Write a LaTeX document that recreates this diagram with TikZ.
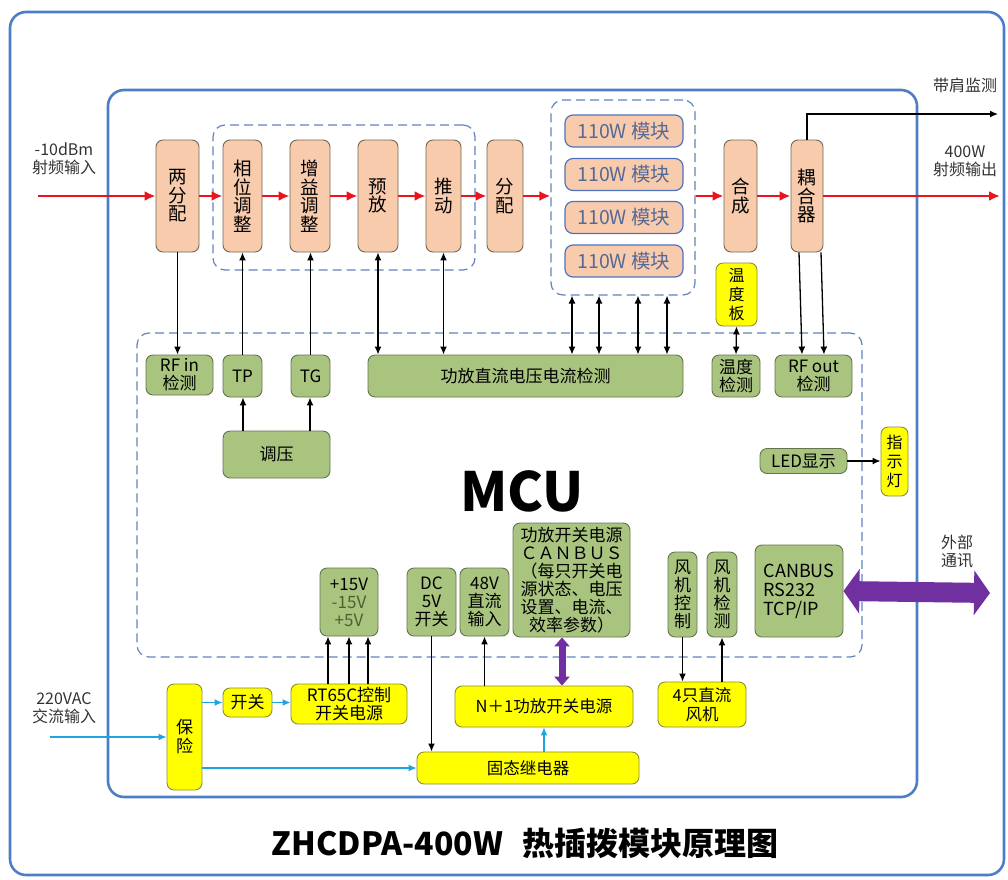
\documentclass[tikz,border=0pt]{standalone}
\usepackage{fontspec}
\setmainfont{Noto Sans CJK SC}
\usetikzlibrary{arrows.meta}

\definecolor{peach}{RGB}{248,203,173}
\definecolor{peachline}{RGB}{110,105,85}
\definecolor{modline}{RGB}{80,115,190}
\definecolor{modtext}{RGB}{85,105,150}
\definecolor{greenfill}{RGB}{169,196,127}
\definecolor{greenline}{RGB}{100,115,80}
\definecolor{yelfill}{RGB}{255,255,0}
\definecolor{yelline}{RGB}{140,140,50}
\definecolor{dashblue}{RGB}{95,130,190}
\definecolor{frameblue}{RGB}{75,125,200}
\definecolor{labelgray}{RGB}{50,50,50}
\definecolor{sigred}{RGB}{235,20,30}
\definecolor{acblue}{RGB}{30,165,225}
\definecolor{buspurple}{RGB}{112,48,160}
\definecolor{voltgreen}{RGB}{80,95,50}

\begin{document}
\begin{tikzpicture}[x=1pt,y=-1pt,
  rfbox/.style={draw=peachline,fill=peach,rounded corners=7pt,line width=0.9pt,inner sep=1pt,align=center,font=\fontsize{18.5}{18.5}\selectfont},
  modbox/.style={draw=modline,fill=peach,rounded corners=8pt,line width=1.2pt,inner sep=1pt,text=modtext,font=\fontsize{19.5}{20}\selectfont,minimum width=118pt,minimum height=32pt},
  mcubox/.style={draw=greenline,fill=greenfill,rounded corners=7pt,line width=0.9pt,inner sep=1pt,align=center,font=\fontsize{17}{18}\selectfont},
  pwrbox/.style={draw=yelline,fill=yelfill,rounded corners=7pt,line width=0.9pt,inner sep=1pt,align=center,font=\fontsize{16.5}{18.5}\selectfont},
  grpbox/.style={draw=dashblue,dash pattern=on 9pt off 5pt,rounded corners=12pt,line width=1.2pt,inner sep=0pt},
  note/.style={text=labelgray,align=center,font=\fontsize{16}{18}\selectfont},
  sig/.style={draw=sigred,line width=2.6pt,-{Latex[length=11pt,width=10pt]}},
  ctl/.style={draw=black,line width=1.3pt,-{Latex[length=8pt,width=7pt]}},
  ctlboth/.style={draw=black,line width=1.3pt,{Latex[length=8pt,width=7pt]}-{Latex[length=8pt,width=7pt]}},
  ac/.style={draw=acblue,line width=1.4pt,-{Latex[length=8pt,width=7pt]}},
  frame/.style={draw=frameblue,line width=2.6pt,rounded corners=16pt}]
\useasboundingbox (0,0) rectangle (1008,879);
\draw[frame] (10,12) rectangle (1004,875);
\draw[frame] (108,90) rectangle (917,797);

\node[grpbox,minimum width=262pt,minimum height=145pt] (grp1) at (344,197.5) {};
\node[grpbox,minimum width=144pt,minimum height=195pt] (grp2) at (623,197.5) {};
\node[grpbox,minimum width=725pt,minimum height=324pt] (grp3) at (499.5,495) {};

\node[rfbox,minimum width=43pt,minimum height=112pt] (lfp) at (177.5,196) {两\\分\\配};
\node[rfbox,minimum width=39pt,minimum height=112pt] (xw) at (242.5,196) {相\\位\\调\\整};
\node[rfbox,minimum width=40pt,minimum height=112pt] (zy) at (310,196) {增\\益\\调\\整};
\node[rfbox,minimum width=40pt,minimum height=112pt] (yf) at (378,196) {预\\放};
\node[rfbox,minimum width=35pt,minimum height=112pt] (td) at (443.5,196) {推\\动};
\node[rfbox,minimum width=36pt,minimum height=112pt] (fp) at (505,196) {分\\配};
\node[rfbox,minimum width=33pt,minimum height=112pt] (hc) at (740.5,196) {合\\成};
\node[rfbox,minimum width=32pt,minimum height=112pt] (ohq) at (807,196) {耦\\合\\器};

\node[modbox] (m1) at (624,131) {110W 模块};
\node[modbox] (m2) at (624,174.5) {110W 模块};
\node[modbox] (m3) at (624,217.5) {110W 模块};
\node[modbox] (m4) at (624,261) {110W 模块};

\node[pwrbox,minimum width=41pt,minimum height=63pt,font=\fontsize{16}{19}\selectfont] (wdb) at (736.5,294.5) {温\\度\\板};

\node[mcubox,minimum width=67pt,minimum height=40pt] (rfin) at (179.5,375) {RF in\\检测};
\node[mcubox,minimum width=39pt,minimum height=42pt] (tp) at (242.5,376) {TP};
\node[mcubox,minimum width=39pt,minimum height=42pt] (tg) at (310.5,376) {TG};
\node[mcubox,minimum width=315pt,minimum height=42pt] (gfz) at (525.5,376) {功放直流电压电流检测};
\node[mcubox,minimum width=48pt,minimum height=42pt] (wdjc) at (736,376) {温度\\检测};
\node[mcubox,minimum width=77pt,minimum height=42pt] (rfout) at (813.5,376) {RF out\\检测};
\node[mcubox,minimum width=107pt,minimum height=47pt] (ty) at (276.5,454.5) {调压};
\node[mcubox,minimum width=87pt,minimum height=25pt] (led) at (803.5,461) {LED显示};
\node[pwrbox,minimum width=27pt,minimum height=69pt,font=\fontsize{16}{19}\selectfont] (zsd) at (894.5,461.5) {指\\示\\灯};

\node[font=\fontsize{54}{54}\bfseries\selectfont] (mcu) at (522,491) {MCU};

\node[mcubox,minimum width=58pt,minimum height=68pt] (pwr) at (349,602) {+15V\\\textcolor{voltgreen}{-15V}\\\textcolor{voltgreen}{+5V}};
\node[mcubox,minimum width=49pt,minimum height=68pt] (dc5) at (431.5,602) {DC\\5V\\开关};
\node[mcubox,minimum width=49pt,minimum height=68pt] (v48) at (484.5,602) {48V\\直流\\输入};
\node[mcubox,minimum width=117pt,minimum height=114pt,font=\fontsize{17}{18}\selectfont] (canps) at (571.5,580) {功放开关电源\\ＣＡＮＢＵＳ\\（每只开关电\\源状态、电压\\设置、电流、\\效率参数）};
\node[mcubox,minimum width=29pt,minimum height=85pt] (fjkz) at (682.5,594.5) {风\\机\\控\\制};
\node[mcubox,minimum width=30pt,minimum height=85pt] (fjjc) at (722,594.5) {风\\机\\检\\测};
\node[mcubox,minimum width=88pt,minimum height=92pt,align=left,font=\fontsize{18}{19}\selectfont] (comm) at (799,591) {CANBUS\\RS232\\TCP/IP};

\node[pwrbox,minimum width=35pt,minimum height=106pt,font=\fontsize{17}{19}\selectfont] (bx) at (184.5,737) {保\\险};
\node[pwrbox,minimum width=49pt,minimum height=29pt,font=\fontsize{17}{18}\selectfont] (kg) at (247.5,702.5) {开关};
\node[pwrbox,minimum width=116pt,minimum height=40pt,font=\fontsize{17}{18.5}\selectfont] (rt) at (349,704) {RT65C控制\\开关电源};
\node[pwrbox,minimum width=178pt,minimum height=41pt] (np1) at (544,706.5) {N＋1功放开关电源};
\node[pwrbox,minimum width=222pt,minimum height=32pt] (gtjdq) at (528,768) {固态继电器};
\node[pwrbox,minimum width=88pt,minimum height=45pt] (fan) at (702,704.5) {4只直流\\风机};

\node[note] (inlbl) at (64,159) {-10dBm\\射频输入};
\node[note] (outlbl) at (965,161) {400W\\射频输出};
\node[note] (jdlbl) at (965,85) {带肩监测};
\node[note] (extlbl) at (957,551) {外部\\通讯};
\node[note] (aclbl) at (64,708) {220VAC\\交流输入};
\node[font=\fontsize{32}{32}\bfseries\selectfont] (title) at (525,843) {ZHCDPA-400W\hspace{0.6em}热插拨模块原理图};

\coordinate (rfsrc) at (38,196);
\coordinate (rfdst) at (1000,196);
\coordinate (jdend) at (998,114);
\coordinate (acsrc) at (50,737);
\coordinate (extend) at (990,593);

\draw[sig] (rfsrc) -- (lfp.west);
\draw[sig] (lfp.east) -- (xw.west);
\draw[sig] (xw.east) -- (zy.west);
\draw[sig] (zy.east) -- (yf.west);
\draw[sig] (yf.east) -- (td.west);
\draw[sig] (td.east) -- (fp.west);
\draw[sig] (fp.east) -- (fp.east -| grp2.west);
\draw[sig] (hc.west -| grp2.east) -- (hc.west);
\draw[sig] (hc.east) -- (ohq.west);
\draw[sig] (ohq.east) -- (rfdst);
\draw[ctl] (ohq.north) |- (jdend);

\draw[ctl] (lfp.south) -- (lfp.south |- rfin.north);
\draw[ctl] (tp.north) -- (xw.south);
\draw[ctl] (tg.north) -- (tg.north |- zy.south);
\draw[ctlboth] (yf.south) -- (yf.south |- gfz.north);
\draw[ctlboth] (td.south) -- (td.south |- gfz.north);
\foreach \x in {572,599,638,667}
  \draw[ctlboth] (\x,0 |- grp2.south) -- (\x,0 |- gfz.north);
\draw[ctlboth] (wdb.south) -- (wdjc.north);
\draw[ctl] (799,0 |- ohq.south) -- (802,0 |- rfout.north);
\draw[ctl] (821,0 |- ohq.south) -- (824,0 |- rfout.north);
\draw[ctl] (243,0 |- ty.north) -- (243,0 |- tp.south);
\draw[ctl] (310,0 |- ty.north) -- (310,0 |- tg.south);
\draw[ctl] (led.east) -- (led.east -| zsd.west);

\foreach \x in {328,349,368}
  \draw[ctl] (\x,0 |- rt.north) -- (\x,0 |- pwr.south);
\draw[ctl] (dc5.south) -- (dc5.south |- gtjdq.north);
\draw[ctl] (np1.north -| v48.south) -- (v48.south);
\draw[ctl] (fjkz.south) -- (fjkz.south |- fan.north);
\draw[ctl] (fjjc.south |- fan.north) -- (fjjc.south);

\draw[ac] (acsrc) -- (bx.west);
\draw[ac] (bx.east |- kg.west) -- (kg.west);
\draw[ac] (kg.east) -- (kg.east -| rt.west);
\draw[ac] (bx.east |- gtjdq.west) -- (gtjdq.west);
\draw[ac] (np1.south |- gtjdq.north) -- (np1.south);

\draw[draw=buspurple,line width=7pt,{Triangle[length=9pt,width=15pt]}-{Triangle[length=9pt,width=15pt]}] (562,0 |- canps.south) -- (562,0 |- np1.north);
\draw[draw=buspurple,line width=20pt,{Triangle[length=16pt,width=44pt]}-{Triangle[length=16pt,width=44pt]}] (comm.east) -- (extend);
\end{tikzpicture}
\end{document}
